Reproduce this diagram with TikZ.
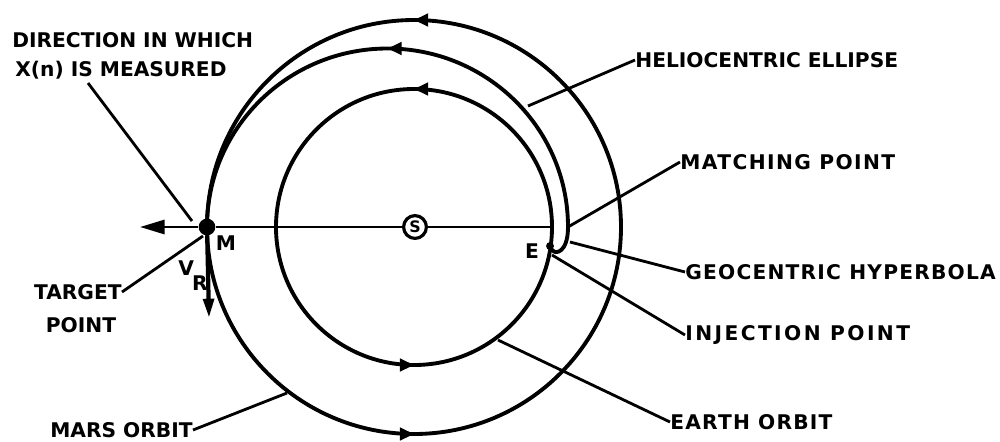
\documentclass[tikz,border=0pt]{standalone}
\usepackage{fontspec}
\setmainfont{DejaVu Sans}
\usetikzlibrary{arrows.meta,decorations.markings}

\tikzset{
  orbita/.style={line width=2.2pt, line cap=round},
  guia/.style={line width=1.6pt},
  etiqueta/.style={inner sep=0pt, font=\fontsize{11.5}{13}\selectfont\bfseries},
  puntito/.style={circle, fill, inner sep=0pt, minimum size=#1},
  flechauna/.style={postaction={decorate}, decoration={markings,
      mark=at position #1 with {\arrow{Triangle[length=8pt,width=7pt]}}}},
  flechados/.style={postaction={decorate}, decoration={markings,
      mark=at position 0.25 with {\arrow{Triangle[length=8pt,width=7pt]}},
      mark=at position 0.75 with {\arrow{Triangle[length=8pt,width=7pt]}}}},
}

\begin{document}
\begin{tikzpicture}[x=0.02cm, y=0.02cm]
  \useasboundingbox (0,0) rectangle (1000,441);

  % Orbitas
  \draw[orbita, flechados] (414,214) circle (207);
  \draw[orbita, flechados] (414,214) circle (138);

  % Puntos
  \node[puntito=9.5pt] (M) at (207,214) {};
  \node[puntito=4.5pt] (E) at (550,195) {};
  \coordinate (P) at (552,214);
  \coordinate (izq) at (140,214);
  \coordinate (vr) at (209,123);
  \node[circle, draw, fill=white, line width=1.8pt, minimum size=13pt, inner sep=0pt,
        font=\fontsize{9}{9}\selectfont\bfseries] (S) at (415,214) {S};

  % Elipse heliocentrica e hiperbola geocentrica
  \draw[orbita, flechauna=0.5] (568,214) arc[start angle=0, end angle=180, x radius=180.5, y radius=178.5];
  \draw[orbita] (E) .. controls (555,186) and (568,188) .. (568,214);

  % Linea M--S--E y flechas
  \draw[guia] (M) -- (S);
  \draw[guia] (S) -- (P);
  \draw[guia, -{Triangle[length=14pt,width=8pt]}] (M) -- (izq);
  \draw[line width=2.4pt, -{Triangle[length=11pt,width=6pt]}] (M) -- (vr);

  \node[etiqueta] (mlab) at (226,198) {M};
  \node[etiqueta] (elab) at (532,190) {E};
  \node[etiqueta, anchor=west] (vrlab) at (178,165) {V\kern-1pt\raisebox{-8.5pt}{R}};

  % Textos
  \node[etiqueta, anchor=west] (dir1) at (12,401) {DIRECTION IN WHICH};
  \node[etiqueta, anchor=west] (dir2) at (15,371) {X(n) IS MEASURED};
  \node[etiqueta, anchor=east] (target) at (122,149) {TARGET};
  \node[etiqueta] (point) at (81,116) {POINT};
  \node[etiqueta, anchor=east] (marte) at (193,11) {MARS ORBIT};
  \node[etiqueta, anchor=west] (tierra) at (670,19) {\addfontfeature{LetterSpace=6}EARTH ORBIT};
  \node[etiqueta, anchor=west] (helio) at (635,381) {HELIOCENTRIC ELLIPSE};
  \node[etiqueta, anchor=west] (match) at (680,279) {\addfontfeature{LetterSpace=7}MATCHING POINT};
  \node[etiqueta, anchor=west] (geo) at (685,169) {\addfontfeature{LetterSpace=6}GEOCENTRIC HYPERBOLA};
  \node[etiqueta, anchor=west] (iny) at (685,106) {\addfontfeature{LetterSpace=12}INJECTION POINT};

  % Lineas guia
  \coordinate (d1) at (88,358);
  \coordinate (d2) at (192,220);
  \coordinate (t1) at (203,205);
  \coordinate (m1) at (287,48);
  \coordinate (e1) at (498,101);
  \coordinate (h1) at (528,335);
  \coordinate (p1) at (568,214);
  \coordinate (g1) at (570,199);
  \coordinate (i1) at (552,186);
  \draw[guia] (d1) -- (d2);
  \draw[guia] (target.east) -- (t1);
  \draw[guia] (marte.east) -- (m1);
  \draw[guia] (tierra.west) -- (e1);
  \draw[guia] (helio.west) -- (h1);
  \draw[guia] (match.west) -- (p1);
  \draw[guia] (geo.west) -- (g1);
  \draw[guia] (iny.west) -- (i1);
\end{tikzpicture}
\end{document}
